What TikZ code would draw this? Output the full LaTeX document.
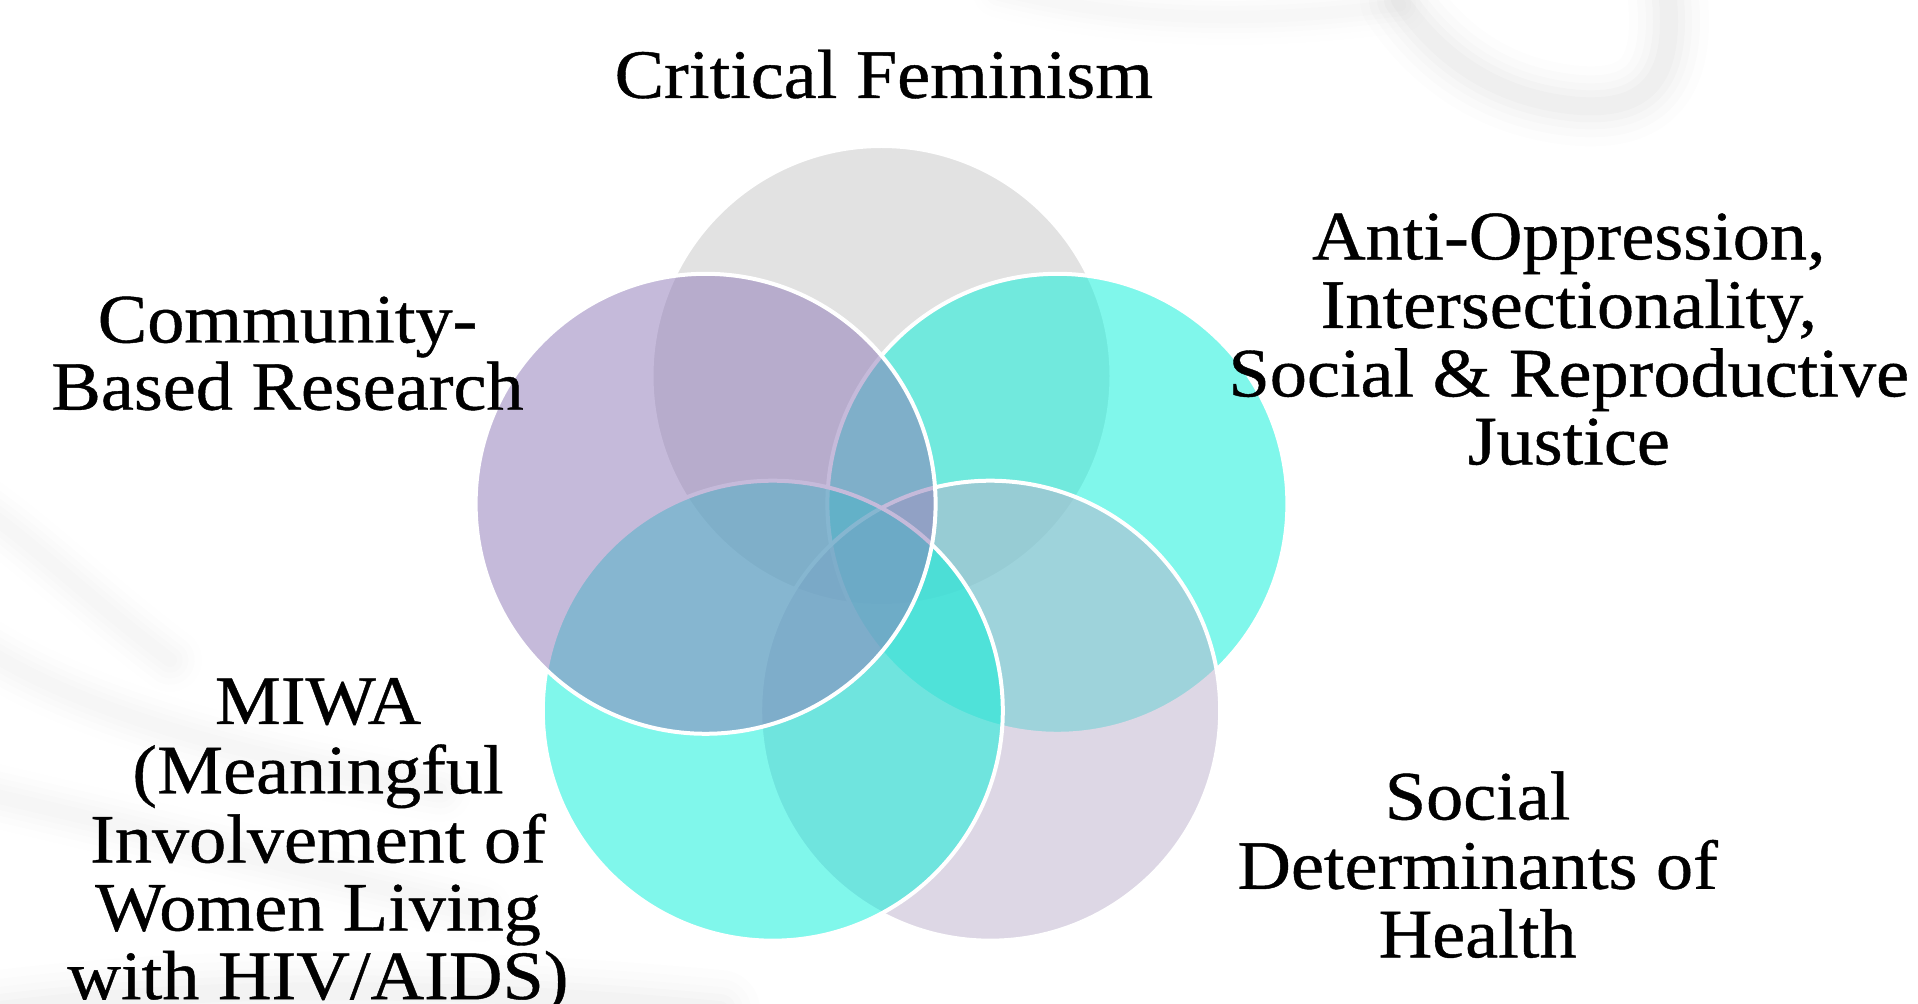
\documentclass[tikz,border=0pt]{standalone}
\usepackage{fontspec}
\setmainfont{Liberation Serif}[FakeStretch=1.07,FakeBold=0.6]
\definecolor{cgray}{RGB}{199,199,199}
\definecolor{ccyan}{RGB}{2,241,217}
\definecolor{clav}{RGB}{189,177,205}
\definecolor{cpurp}{RGB}{141,119,183}
\newcommand\lbltext[2]{\fontsize{34.7pt}{#1pt}\selectfont\begin{tabular}[t]{@{}c@{}}#2\end{tabular}}
\begin{document}
\begin{tikzpicture}[x=0.5pt,y=-0.5pt]
\tikzset{
  venn/.style={circle, inner sep=0pt, minimum size=230pt, draw=white, line width=2pt, fill opacity=0.5, draw opacity=1},
  lbl/.style={inner sep=0pt, anchor=base, text=black},
  haze/.style={draw=black, line cap=round, line join=round}
}
\useasboundingbox (0,0) rectangle (1918,1004);
\fill[white] (0,0) rectangle (1918,1004);
% faint background watermark
\foreach \w/\o in {80/0.008, 62/0.010, 46/0.012, 32/0.014, 18/0.016}{
  \draw[haze, line width=\w*0.5pt, opacity=\o] (1400,0) .. controls (1440,60) and (1500,100) .. (1580,106) .. controls (1645,110) and (1675,80) .. (1668,0);
  \draw[haze, line width=\w*0.35pt, opacity=\o*0.5] (1000,-10) .. controls (1120,20) and (1250,25) .. (1400,5);
  \draw[haze, line width=\w*0.4pt, opacity=\o*0.6] (-30,500) .. controls (30,540) and (90,600) .. (170,660);
  \draw[haze, line width=\w*0.4pt, opacity=\o*0.6] (-30,640) .. controls (60,700) and (200,750) .. (440,790);
  \draw[haze, line width=\w*0.4pt, opacity=\o*0.6] (-30,790) .. controls (100,820) and (300,870) .. (480,910);
  \draw[haze, line width=\w*0.5pt, opacity=\o*0.8] (0,1010) .. controls (200,985) and (450,985) .. (720,1010);
}
% circles
\node[venn, fill=cgray] (feminism) at (881.5,376) {};
\node[venn, fill=ccyan] (antiopp) at (1057.4,503.8) {};
\node[venn, fill=clav] (socdet) at (990.2,710.7) {};
\node[venn, fill=ccyan] (miwa) at (772.8,710.7) {};
\node[venn, fill=cpurp] (cbr) at (705.6,503.8) {};
% labels
\node[lbl] (lcf) at (883.8,97.9) {\lbltext{34}{Critical Feminism}};
\node[lbl] (lcbr) at (287.5,342.5) {\lbltext{31.8}{Community-\\Based Research}};
\node[lbl] (laop) at (1568.8,259.3) {\lbltext{34}{Anti-Oppression,\\Intersectionality,\\Social \& Reproductive\\Justice}};
\node[lbl] (lsdh) at (1477.6,819.5) {\lbltext{34}{Social\\Determinants of\\Health}};
\node[lbl] (lmiwa) at (318,724) {\lbltext{34}{MIWA\\(Meaningful\\Involvement of\\Women Living\\with HIV/AIDS)}};
\end{tikzpicture}
\end{document}
